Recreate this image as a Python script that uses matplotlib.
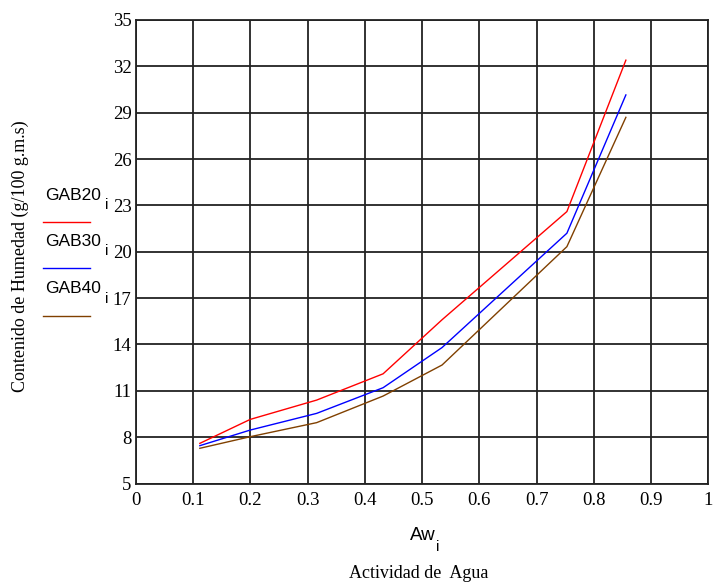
import matplotlib
matplotlib.use('Agg')
import matplotlib.pyplot as plt
import numpy as np

# water activity and GAB model moisture at 20, 30 and 40 C
aw = [0.112, 0.2, 0.316, 0.432, 0.535, 0.753, 0.856]
gab20 = [7.6, 9.15, 10.4, 12.1, 15.6, 22.6, 32.4]
gab30 = [7.45, 8.46, 9.54, 11.2, 13.8, 21.2, 30.15]
gab40 = [7.28, 8.03, 8.94, 10.66, 12.67, 20.33, 28.7]

xticks = [0, 0.1, 0.2, 0.3, 0.4, 0.5, 0.6, 0.7, 0.8, 0.9, 1]
xtick_labels = ['0', '0.1', '0.2', '0.3', '0.4', '0.5', '0.6', '0.7', '0.8', '0.9', '1']
yticks = [5, 8, 11, 14, 17, 20, 23, 26, 29, 32, 35]

series = [('GAB20', gab20, '#ff0000'), ('GAB30', gab30, '#0000ff'), ('GAB40', gab40, '#804000')]

serif = 'Liberation Serif'
sans = 'Liberation Sans'

fig = plt.figure(figsize=(7.17, 5.88), dpi=100)
ax = fig.add_axes([0.1893, 0.1777, 0.7986, 0.7883])

for name, vals, col in series:
    ax.plot(aw, vals, color=col, lw=1.0)

ax.set_xlim(0, 1)
ax.set_ylim(5, 35)
ax.set_xticks(xticks)
ax.set_xticklabels(xtick_labels, fontfamily=serif, fontsize=13.5)
ax.set_yticks(yticks)
ax.set_yticklabels([str(v) for v in yticks], fontfamily=serif, fontsize=13.5)
ax.tick_params(axis='y', length=0, pad=3)
ax.tick_params(axis='x', length=0, pad=6)
ax.grid(True, color='#222222', lw=1.3)
for s in ax.spines.values():
    s.set_color('#222222')
    s.set_linewidth(1.3)

# legend-like labels on the left, Mathcad style
ly = [0.668, 0.59, 0.509]
for (name, vals, col), y in zip(series, ly):
    fig.text(0.063, y, name, fontfamily=sans, fontsize=12.5, va='center', ha='left')
    fig.text(0.146, y - 0.017, 'i', fontfamily=sans, fontsize=11, va='center', ha='left')
    fig.add_artist(plt.Line2D([0.06, 0.126], [y - 0.046, y - 0.046], color=col, lw=1.0,
                              transform=fig.transFigure))

fig.text(0.028, 0.565, 'Contenido de Humedad (g/100 g.m.s)', rotation=90,
         fontfamily=serif, fontsize=13, va='center', ha='center')
fig.text(0.589, 0.09, 'Aw', fontfamily=sans, fontsize=13.5, va='center', ha='center')
fig.text(0.611, 0.07, 'i', fontfamily=sans, fontsize=11, va='center', ha='center')
fig.text(0.584, 0.025, 'Actividad de  Agua', fontfamily=serif, fontsize=13,
         va='center', ha='center')

fig.savefig('out.png', dpi=100, facecolor='white')
